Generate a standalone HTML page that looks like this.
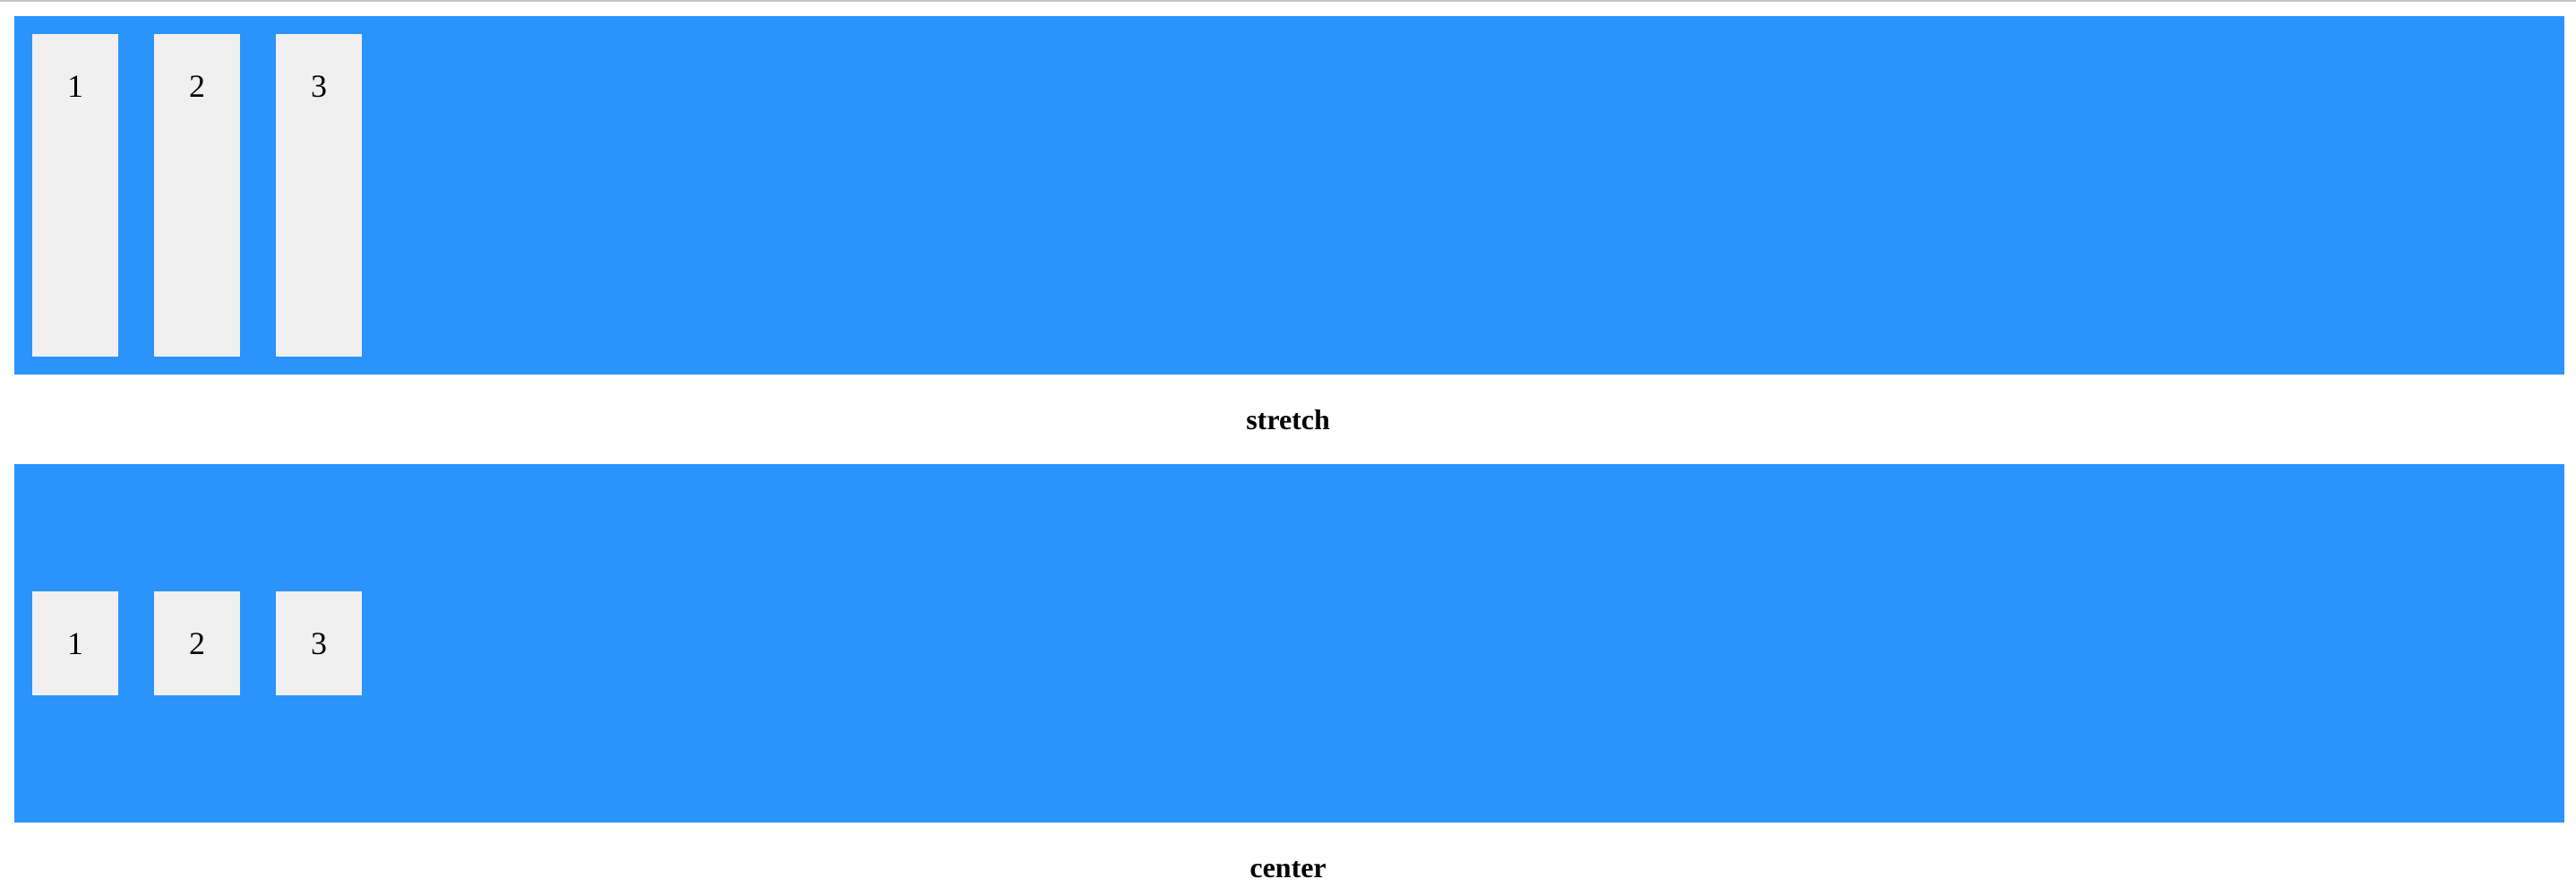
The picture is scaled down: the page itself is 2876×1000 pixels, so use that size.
<!DOCTYPE html>
<html><head><meta charset="utf-8"><style>
html,body{margin:0;padding:0;background:#fff;width:2876px;height:1000px;overflow:hidden;font-family:"Liberation Serif",serif;}
.topline{position:absolute;left:0;top:0;width:2876px;height:2px;background:#c4c4c4;}
.box{position:absolute;left:16px;width:2847px;height:400px;background:#2a93fc;}
.item{position:absolute;width:96px;background:#f0f0f0;text-align:center;font-size:36px;line-height:116px;color:#000;}
.label{position:absolute;left:0;width:2876px;text-align:center;font-weight:bold;font-size:32px;line-height:36px;}
</style></head><body>
<div class="topline"></div>
<div class="box" style="top:18px">
  <div class="item" style="left:20px;top:20px;height:360px">1</div>
  <div class="item" style="left:156px;top:20px;height:360px">2</div>
  <div class="item" style="left:292px;top:20px;height:360px">3</div>
</div>
<div class="label" style="top:450px">stretch</div>
<div class="box" style="top:518px">
  <div class="item" style="left:20px;top:142px;height:116px">1</div>
  <div class="item" style="left:156px;top:142px;height:116px">2</div>
  <div class="item" style="left:292px;top:142px;height:116px">3</div>
</div>
<div class="label" style="top:950px">center</div>
</body></html>
